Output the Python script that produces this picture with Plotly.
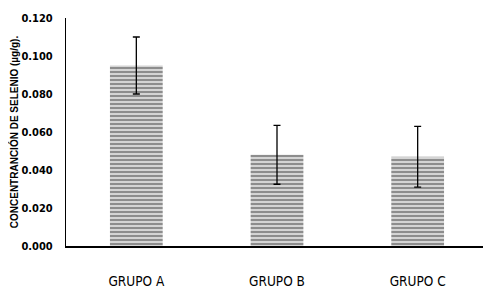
import plotly.graph_objects as go

groups = ["GRUPO A", "GRUPO B", "GRUPO C"]
values = [0.095, 0.048, 0.047]
errors = [0.015, 0.0155, 0.016]
y_ticks = [0.0, 0.02, 0.04, 0.06, 0.08, 0.10, 0.12]
y_tick_labels = ["0.000", "0.020", "0.040", "0.060", "0.080", "0.100", "0.120"]

fig = go.Figure()
fig.add_trace(go.Bar(
    x=groups, y=values,
    marker=dict(
        color="#cdcdcd",
        line=dict(width=0),
        pattern=dict(shape="-", fgcolor="#6f6f6f", bgcolor="#d4d4d4", size=4, solidity=0.35, fillmode="replace"),
    ),
    error_y=dict(type="data", array=errors, visible=True, color="black", thickness=1.3, width=3.5),
    width=0.375,
))

# page body has an 8px default margin; figure sized to fit the 491x297 window
fig.update_layout(
    width=483, height=289,
    margin=dict(l=58, r=3, t=10, b=51),
    paper_bgcolor="white", plot_bgcolor="white",
    showlegend=False,
    font=dict(family="DejaVu Sans Condensed, Liberation Sans, sans-serif", color="black"),
)
fig.update_xaxes(
    showline=True, linecolor="black", linewidth=1.5,
    showgrid=False, ticks="", tickfont=dict(size=13.5, family="DejaVu Sans Condensed, Liberation Sans"),
    ticklabelstandoff=22, automargin=False,
)
fig.update_yaxes(
    range=[0, 0.12], tickvals=y_ticks, ticktext=y_tick_labels,
    showline=True, linecolor="black", linewidth=1.2,
    showgrid=False, zeroline=False, ticks="",
    tickfont=dict(size=11, family="DejaVu Sans Condensed, Liberation Sans", weight="bold"),
    ticklabelstandoff=10, automargin=False,
    title=dict(text="CONCENTRANCIÓN DE SELENIO (µg/g).", font=dict(size=10, weight="bold", family="Liberation Sans, Arial"), standoff=3),
)

fig.write_html("out.html")
